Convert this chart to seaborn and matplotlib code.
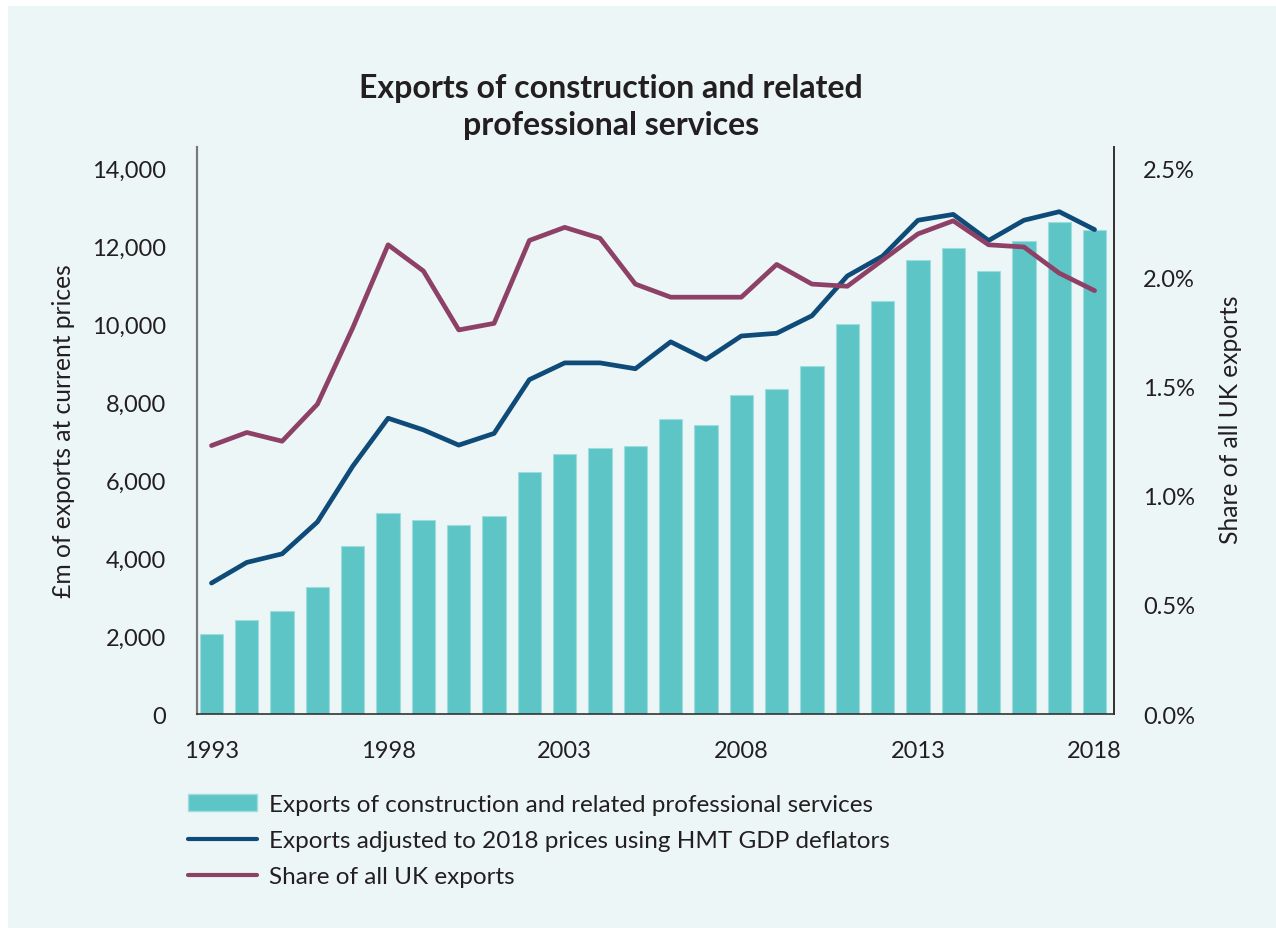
import numpy as np
import pandas as pd
import matplotlib
matplotlib.use('Agg')
import matplotlib.pyplot as plt
import seaborn as sns
from matplotlib.patches import Patch, Rectangle
from matplotlib.lines import Line2D
from matplotlib.ticker import FuncFormatter

# data
years = [str(y) for y in range(1993, 2019)]
exports_current = [2060, 2420, 2650, 3270, 4320, 5150, 4990, 4850, 5080, 6200,
                   6660, 6820, 6880, 7570, 7410, 8180, 8340, 8930, 10000, 10600,
                   11660, 11960, 11370, 12130, 12630, 12430]
exports_real = [3360, 3890, 4110, 4930, 6360, 7590, 7290, 6900, 7200, 8580,
                9010, 9010, 8860, 9550, 9100, 9700, 9770, 10220, 11240, 11750,
                12670, 12820, 12150, 12670, 12890, 12430]
uk_share = [1.23, 1.29, 1.25, 1.42, 1.77, 2.15, 2.03, 1.76, 1.79, 2.17,
            2.23, 2.18, 1.97, 1.91, 1.91, 1.91, 2.06, 1.97, 1.96, 2.08,
            2.20, 2.26, 2.15, 2.14, 2.02, 1.94]
xtick_labels = ["1993", "1998", "2003", "2008", "2013", "2018"]

df = pd.DataFrame({"year": years, "current": exports_current,
                   "real": exports_real, "share": uk_share})

teal = "#5ec5c6"
navy = "#0f4b78"
plum = "#8e4167"
bg = "#edf6f7"
txt = "#231f20"

sns.set_theme(style="white")
plt.rcParams['font.family'] = ['Lato', 'DejaVu Sans']

fig = plt.figure(figsize=(12.76, 9.29), dpi=100, facecolor="white")
fig.patches.append(Rectangle((8 / 1276, 0), 1, 1 - 7 / 929, transform=fig.transFigure,
                             facecolor=bg, edgecolor="none", zorder=-10))
ax = fig.add_axes([197 / 1276, 1 - 715 / 929, (1114 - 197) / 1276, (715 - 148) / 929])
ax.set_facecolor("none")

#bars
sns.barplot(data=df, x="year", y="current", color=teal, width=0.66, saturation=1,
            edgecolor="#9fdcdc", linewidth=0.8, ax=ax, zorder=2)
#real-terms line on the left axis
sns.pointplot(data=df, x="year", y="real", color=navy, markers="", linewidth=3.4,
              errorbar=None, ax=ax, zorder=3)
for l in ax.lines:
    l.set_solid_capstyle("round")
    l.set_solid_joinstyle("round")

#share line on the right axis
ax2 = ax.twinx()
ax2.set_facecolor("none")
sns.pointplot(data=df, x="year", y="share", color=plum, markers="", linewidth=3.4,
              errorbar=None, ax=ax2, zorder=4)
for l in ax2.lines:
    l.set_solid_capstyle("round")
    l.set_solid_joinstyle("round")

top = 14550
ax.set_ylim(0, top)
ax2.set_ylim(0, top / 14000 * 2.5)
ax.set_xlim(-0.41, 25.55)
ax2.set_xlim(-0.41, 25.55)

ax.set_yticks(range(0, 14001, 2000))
ax.yaxis.set_major_formatter(FuncFormatter(lambda v, p: f"{int(v):,}"))
ax2.set_yticks(np.arange(0, 2.51, 0.5))
ax2.yaxis.set_major_formatter(FuncFormatter(lambda v, p: f"{v:.1f}%"))
ax.set_xticks([years.index(y) for y in xtick_labels])
ax.set_xticklabels(xtick_labels)

ax.tick_params(axis="both", length=0, labelsize=17, colors=txt)
ax.tick_params(axis="y", pad=22)
ax.tick_params(axis="x", pad=19)
ax2.tick_params(axis="y", length=0, labelsize=17, colors=txt, pad=21)

ax.set_xlabel("")
ax.set_ylabel("£m of exports at current prices", fontsize=17.7, color=txt)
ax.yaxis.set_label_coords(-0.133, 0.5)
ax2.set_ylabel("Share of all UK exports", fontsize=17.7, color=txt, rotation=90)
ax2.yaxis.set_label_coords(1.114, 0.52)

for a in (ax, ax2):
    a.spines["top"].set_visible(False)
    a.grid(False)
ax.spines["left"].set_color("#7a7a7a")
ax.spines["left"].set_linewidth(1.6)
ax.spines["bottom"].set_color("#333333")
ax.spines["bottom"].set_linewidth(1.2)
ax2.spines["left"].set_visible(False)
ax2.spines["bottom"].set_visible(False)
ax2.spines["right"].set_color("#333333")
ax2.spines["right"].set_linewidth(1.2)

fig.text(611 / 1276, 1 - 107 / 929,
         "Exports of construction and related\nprofessional services",
         ha="center", va="center", fontsize=23, fontweight="bold", color=txt,
         linespacing=1.35)

handles = [Patch(facecolor=teal, edgecolor="#9fdcdc"),
           Line2D([], [], color=navy, lw=3, solid_capstyle="round"),
           Line2D([], [], color=plum, lw=3, solid_capstyle="round")]
labels = ["Exports of construction and related professional services",
          "Exports adjusted to 2018 prices using HMT GDP deflators",
          "Share of all UK exports"]
fig.legend(handles, labels, loc="upper left", bbox_to_anchor=(188 / 1276, 1 - 795 / 929),
           frameon=False, fontsize=17.5, handlelength=2.85, handletextpad=0.5,
           labelspacing=0.62, borderpad=0, borderaxespad=0, labelcolor=txt)

plt.savefig("out.png", dpi=100, facecolor=fig.get_facecolor())
plt.close()
